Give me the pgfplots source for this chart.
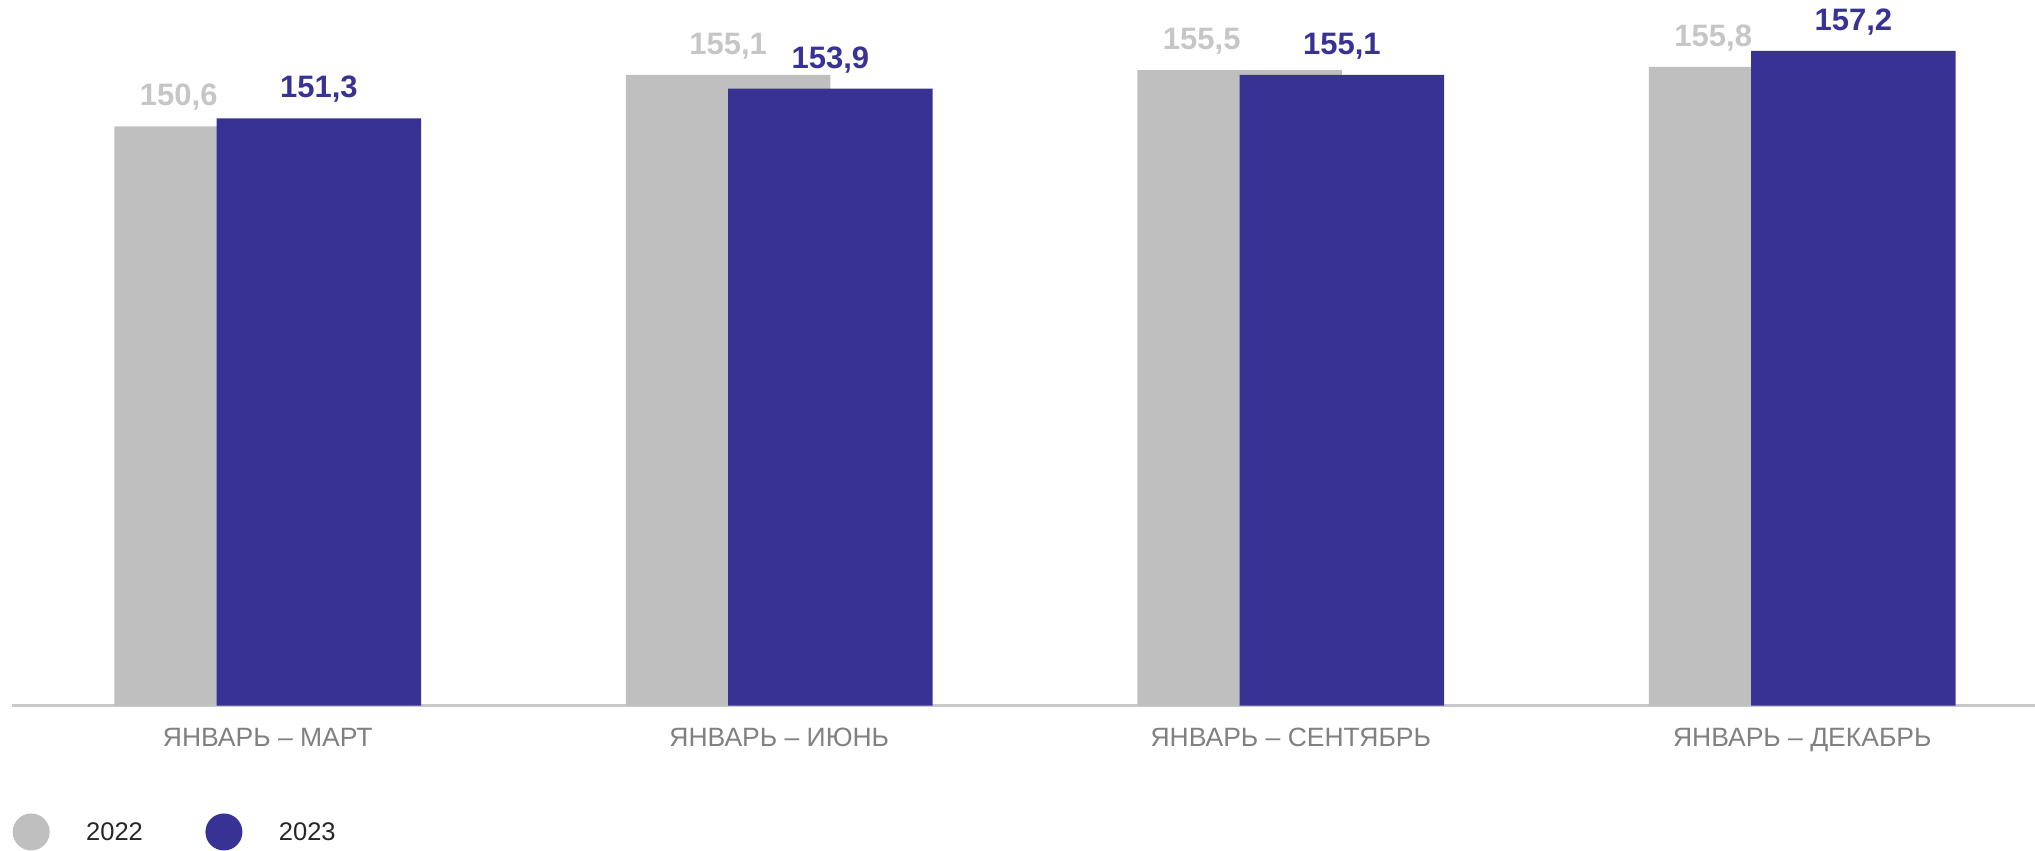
\documentclass[border=0pt]{standalone}
\usepackage{fontspec}
\setmainfont{Liberation Sans}
\usepackage{pgfplots}
\pgfplotsset{compat=1.18}
\definecolor{cgray}{HTML}{BFBFBF}
\definecolor{cnavy}{HTML}{373294}
\definecolor{clabgray}{HTML}{C6C6C6}
\definecolor{ctick}{HTML}{808080}
\definecolor{clegend}{HTML}{262626}
\definecolor{caxis}{HTML}{C8C8C8}
\pgfplotsset{circlegend/.style={legend image code/.code={\fill (18.5pt,0pt) circle (18.5pt); \path (73.5pt,0pt);}}}
\begin{document}
\begin{tikzpicture}[x=1pt,y=1pt]
\path[use as bounding box] (0,0) rectangle (2035,851);
\begin{axis}[
 at={(12pt,145.3pt)}, anchor=south west,
 scale only axis, width=2023pt, height=687pt,
 xmin=-0.5, xmax=3.455, ymin=100, ymax=160,
 axis x line=bottom, axis y line=none,
 axis line style={-, draw=caxis, line width=2.5pt},
 xtick={0,1,2,3},
 xticklabels={ЯНВАРЬ – МАРТ, ЯНВАРЬ – ИЮНЬ, ЯНВАРЬ – СЕНТЯБРЬ, ЯНВАРЬ – ДЕКАБРЬ},
 major tick length=0pt,
 xticklabel style={font=\fontsize{26.5}{30}\selectfont, text=ctick, anchor=base, yshift=-41.3pt},
 ytick=\empty,
 nodes near coords={\pgfmathprintnumber[fixed,fixed zerofill,precision=1,use comma,assume math mode=true]{\pgfplotspointmeta}},
 nodes near coords style={font=\fontsize{31}{34}\selectfont\bfseries, anchor=base, yshift=20.5pt},
 legend style={draw=none, fill=none, at={(-0.00124,-0.1838)}, anchor=west,
   font=\fontsize{25.5}{28}\selectfont, text=clegend, nodes={inner sep=0pt},
   /tikz/every even column/.append style={column sep=62.5pt}},
 legend columns=2,
]
\addplot[ybar, fill=cgray, draw=none, bar shift=-51.15pt, bar width=204.6pt,
  visualization depends on={rawx \as \xv},
  every node near coord/.append style={text=clabgray, xshift={(\xv==1 ? -51.15 : -89)*1pt}}, circlegend]
  coordinates {(0,150.6) (1,155.1) (2,155.5) (3,155.8)};
\addplot[ybar, fill=cnavy, draw=none, bar shift=51.15pt, bar width=204.6pt,
  every node near coord/.append style={text=cnavy, xshift=51.15pt}, circlegend]
  coordinates {(0,151.3) (1,153.9) (2,155.1) (3,157.2)};
\legend{2022,2023}
\end{axis}
\end{tikzpicture}
\end{document}
